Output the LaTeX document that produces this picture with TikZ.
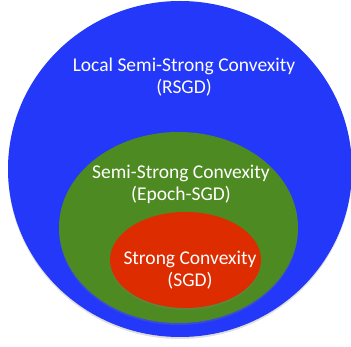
\documentclass[tikz,border=0pt]{standalone}
\usepackage{fontspec}
\setmainfont{Carlito}
\usetikzlibrary{shapes.geometric, shadows}

\definecolor{setblue}{RGB}{35,56,248}
\definecolor{setgreen}{RGB}{78,138,34}
\definecolor{setred}{RGB}{221,44,0}

\begin{document}
\begin{tikzpicture}[x=1pt, y=-1pt,
    region/.style={ellipse, inner sep=0pt,
      drop shadow={shadow xshift=0pt, shadow yshift=-2pt, opacity=0.25}},
    caption/.style={text=white, align=center, font=\fontsize{19.5}{22}\selectfont}]
        \useasboundingbox (0,0) rectangle (351,347);

        % the three sets
        \node[region, fill=setblue, minimum width=344pt, minimum height=336pt] (local) at (180,169) {};
        \node[region, fill=setgreen, minimum width=239pt, minimum height=191pt] (semi) at (178.5,227.5) {};
        \node[region, fill=setred, minimum width=151pt, minimum height=96pt] (strong) at (185.5,260) {};

        % the labels
        \node[caption] (locallabel) at (184,77) {Local Semi-Strong Convexity\\(RSGD)};
        \node[caption] (semilabel) at (181,184) {Semi-Strong Convexity\\(Epoch-SGD)};
        \node[caption] (stronglabel) at (190,270) {Strong Convexity\\(SGD)};
    \end{tikzpicture}
\end{document}
